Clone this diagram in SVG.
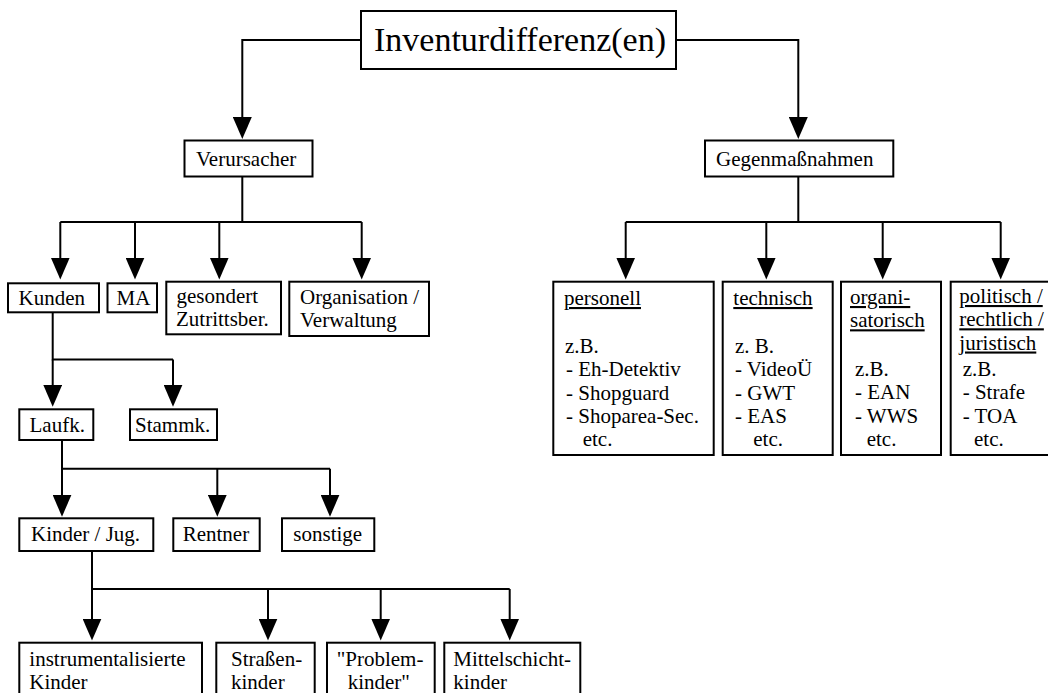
<svg xmlns="http://www.w3.org/2000/svg" width="1048" height="693" viewBox="0 0 1048 693">
<style>
.box{fill:#fff;stroke:#000;stroke-width:2}
.t{font-family:"Liberation Serif","Times New Roman",serif;font-size:21px;fill:#000}
.big{font-size:34px}
.u{text-decoration:underline}
.c{fill:none;stroke:#000;stroke-width:2}
.a{marker-end:url(#arr)}
</style>
<defs>
<marker id="arr" markerUnits="userSpaceOnUse" markerWidth="22" markerHeight="19" refX="12" refY="9.5" orient="auto" viewBox="0 0 22 19">
<path d="M0,0 L22,9.5 L0,19 Z" fill="#000"/>
</marker>
</defs>
<rect x="0" y="0" width="1048" height="693" fill="#fff"/>
<g id="connectors">
<path class="c a" d="M361,40 H242.3 V129"/>
<path class="c a" d="M676,40 H798.3 V129"/>
<path class="c" d="M242.3,176.5 V222 M60.3,222 H361.7"/>
<path class="c a" d="M60.3,222 V269.5"/>
<path class="c a" d="M135,222 V269.5"/>
<path class="c a" d="M219.3,222 V269.5"/>
<path class="c a" d="M361.7,222 V269.5"/>
<path class="c" d="M798.3,176.5 V222 M625.7,222 H1000.7"/>
<path class="c a" d="M625.7,222 V269.5"/>
<path class="c a" d="M766.3,222 V269.5"/>
<path class="c a" d="M882.7,222 V269.5"/>
<path class="c a" d="M1000.7,222 V269.5"/>
<path class="c" d="M52.7,312.5 V359.5 H173"/>
<path class="c a" d="M52.7,359.5 V396.7"/>
<path class="c a" d="M173,359.5 V396.7"/>
<path class="c" d="M62,440 V468.7 H330"/>
<path class="c a" d="M62,468.7 V506.7"/>
<path class="c a" d="M217.3,468.7 V506.7"/>
<path class="c a" d="M330,468.7 V506.7"/>
<path class="c" d="M92,551 V589 H509.7"/>
<path class="c a" d="M92,589 V630.5"/>
<path class="c a" d="M268,589 V630.5"/>
<path class="c a" d="M380.7,589 V630.5"/>
<path class="c a" d="M509.7,589 V630.5"/>
</g>
<g id="n-root"><rect class="box" x="361" y="11" width="315" height="58"/><text class="t big" x="374" y="51">Inventurdifferenz(en)</text></g>
<g id="n-verursacher"><rect class="box" x="184.5" y="140.5" width="128" height="36"/><text class="t" x="196" y="165.5">Verursacher</text></g>
<g id="n-gegen"><rect class="box" x="705" y="140.5" width="188.3" height="36"/><text class="t" x="716" y="165.5">Gegenmaßnahmen</text></g>
<g id="n-kunden"><rect class="box" x="8" y="283.3" width="91" height="29"/><text class="t" x="18.5" y="304.5">Kunden</text></g>
<g id="n-ma"><rect class="box" x="107.5" y="283.3" width="49.5" height="29"/><text class="t" x="116.5" y="304.5">MA</text></g>
<g id="n-gesondert"><rect class="box" x="166.3" y="281.7" width="114.7" height="52.6"/><text class="t" x="176.5" y="303">gesondert</text><text class="t" x="176" y="326.3">Zutrittsber.</text></g>
<g id="n-organisation"><rect class="box" x="289.3" y="281.7" width="139.7" height="54.3"/><text class="t" x="300" y="303.5">Organisation /</text><text class="t" x="300" y="326.8">Verwaltung</text></g>
<g id="n-personell"><rect class="box" x="553.3" y="281.7" width="160.4" height="173.3"/>
<text class="t u" x="564" y="305">personell</text>
<text class="t" x="565" y="353">z.B.</text>
<text class="t" x="566" y="376.3">- Eh-Detektiv</text>
<text class="t" x="566" y="399.5">- Shopguard</text>
<text class="t" x="566" y="422.8">- Shoparea-Sec.</text>
<text class="t" x="582.7" y="446">etc.</text></g>
<g id="n-technisch"><rect class="box" x="722.7" y="281.7" width="110" height="173.3"/>
<text class="t u" x="733.3" y="305">technisch</text>
<text class="t" x="735" y="353">z. B.</text>
<text class="t" x="735" y="376.3">- VideoÜ</text>
<text class="t" x="735" y="399.5">- GWT</text>
<text class="t" x="735" y="422.8">- EAS</text>
<text class="t" x="753.3" y="446">etc.</text></g>
<g id="n-organisatorisch"><rect class="box" x="841" y="281.7" width="100" height="173.3"/>
<text class="t u" x="850" y="304">organi-</text>
<text class="t u" x="850" y="327.3">satorisch</text>
<text class="t" x="855" y="376">z.B.</text>
<text class="t" x="855" y="399.2">- EAN</text>
<text class="t" x="855" y="422.5">- WWS</text>
<text class="t" x="866.7" y="445.7">etc.</text></g>
<g id="n-politisch"><rect class="box" x="950.7" y="281.7" width="130" height="173.3"/>
<text class="t u" x="959.3" y="303">politisch /</text>
<text class="t u" x="959.3" y="326.3">rechtlich /</text>
<text class="t u" x="959.3" y="349.5">juristisch</text>
<text class="t" x="962.7" y="376">z.B.</text>
<text class="t" x="962.7" y="399.2">- Strafe</text>
<text class="t" x="962.7" y="422.5">- TOA</text>
<text class="t" x="974" y="445.7">etc.</text></g>
<g id="n-laufk"><rect class="box" x="19.3" y="409.3" width="74" height="30.7"/><text class="t" x="29.5" y="432">Laufk.</text></g>
<g id="n-stammk"><rect class="box" x="130" y="409.3" width="87" height="30.7"/><text class="t" x="135" y="432">Stammk.</text></g>
<g id="n-kinder"><rect class="box" x="19.3" y="518.3" width="134" height="32.7"/><text class="t" x="31" y="541">Kinder / Jug.</text></g>
<g id="n-rentner"><rect class="box" x="173.3" y="518.3" width="86.4" height="32.7"/><text class="t" x="182.7" y="541">Rentner</text></g>
<g id="n-sonstige"><rect class="box" x="282" y="518.3" width="92.3" height="32.7"/><text class="t" x="293.3" y="541">sonstige</text></g>
<g id="n-instr"><rect class="box" x="19.3" y="642.7" width="182.7" height="70"/><text class="t" x="29.3" y="665.5">instrumentalisierte</text><text class="t" x="29.3" y="688.8">Kinder</text></g>
<g id="n-strassen"><rect class="box" x="216.3" y="642.7" width="98.4" height="70"/><text class="t" x="231" y="665.5">Straßen-</text><text class="t" x="231" y="688.8">kinder</text></g>
<g id="n-problem"><rect class="box" x="327" y="642.7" width="107.7" height="70"/><text class="t" x="336.7" y="665.5">"Problem-</text><text class="t" x="347.7" y="688.8">kinder"</text></g>
<g id="n-mittel"><rect class="box" x="444.3" y="642.7" width="136" height="70"/><text class="t" x="453.3" y="665.5">Mittelschicht-</text><text class="t" x="453.3" y="688.8">kinder</text></g>
</svg>
